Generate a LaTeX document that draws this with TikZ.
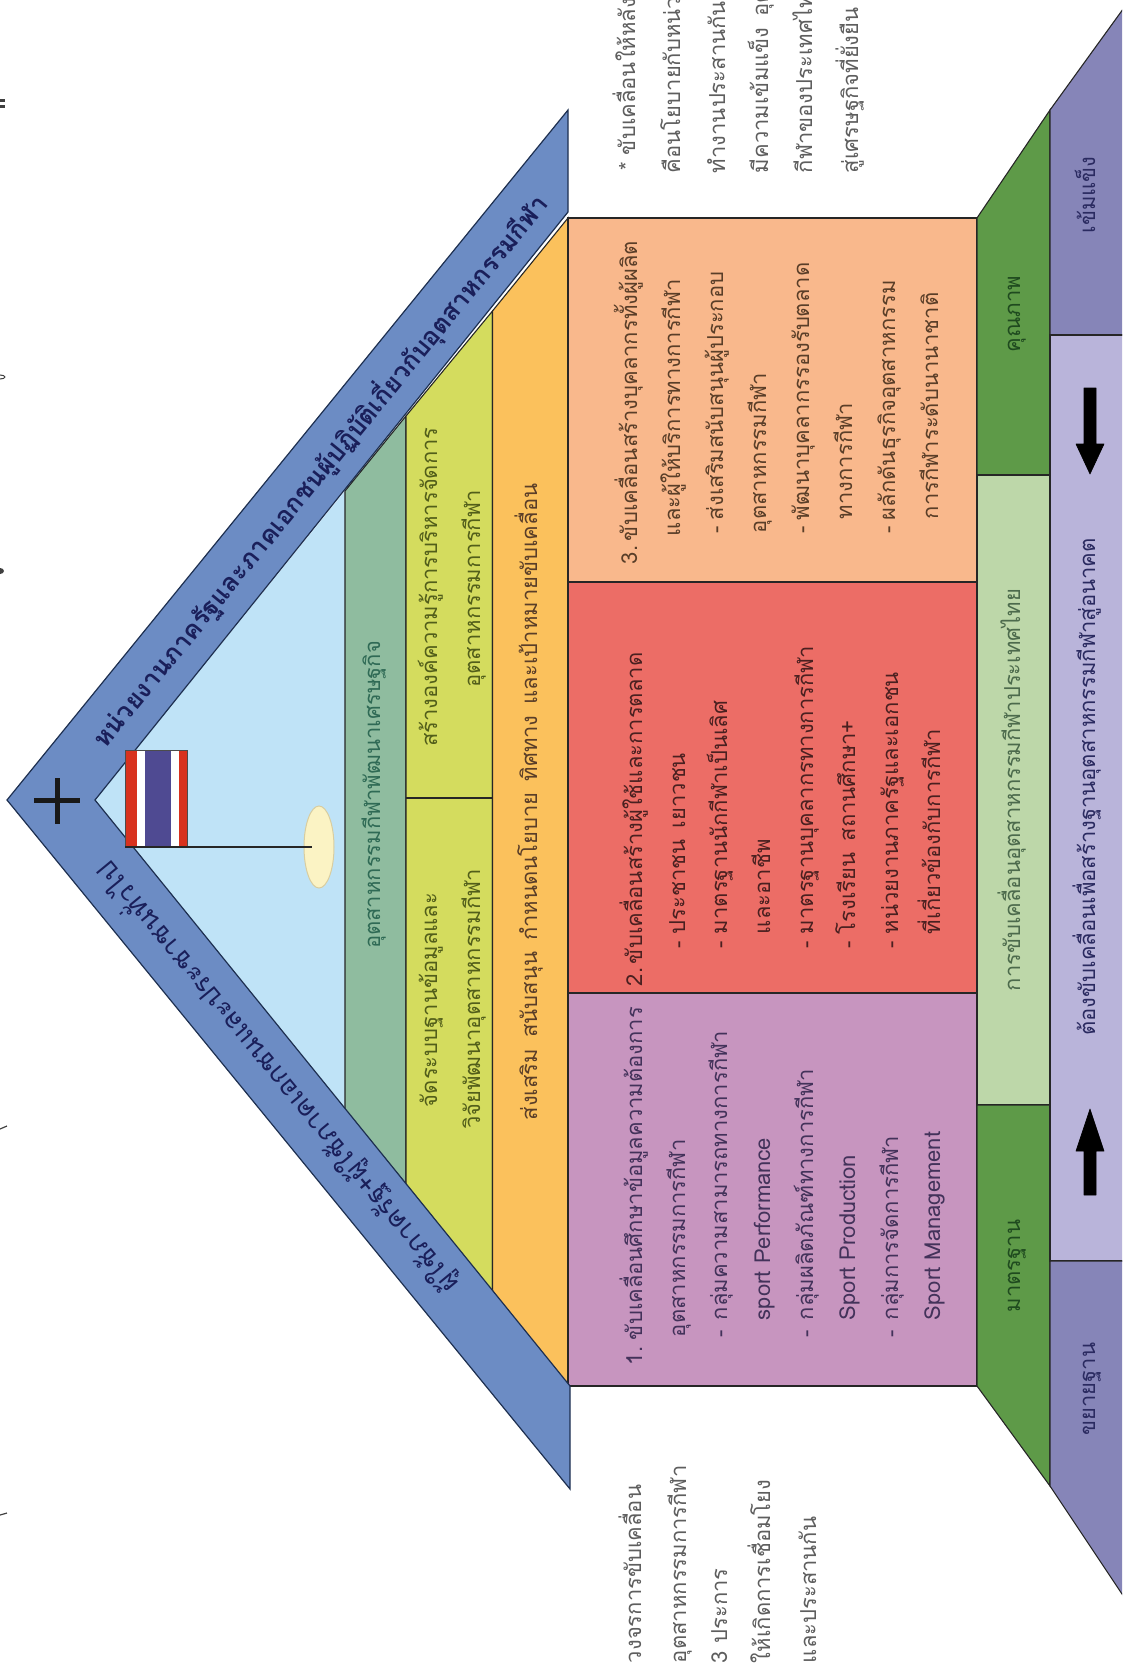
\documentclass[tikz,border=0pt]{standalone}
\usepackage{fontspec}
\usetikzlibrary{shapes.geometric}
\setmainfont[Script=Thai]{Loma}
\definecolor{roof}{HTML}{6C8CC4}
\definecolor{roofedge}{HTML}{1D2F50}
\definecolor{sky}{HTML}{BFE3F7}
\definecolor{bandgreen}{HTML}{8FBC9F}
\definecolor{bandyellow}{HTML}{D4DC5E}
\definecolor{bandorange}{HTML}{FBC15C}
\definecolor{peach}{HTML}{F9B88C}
\definecolor{redbox}{HTML}{EC6D66}
\definecolor{purplebox}{HTML}{C795BF}
\definecolor{darkgreen}{HTML}{5E9A48}
\definecolor{lightgreen}{HTML}{BDD7A9}
\definecolor{darkpurple}{HTML}{8685B8}
\definecolor{lightpurple}{HTML}{B9B4DA}
\definecolor{flagred}{HTML}{D8321E}
\definecolor{flagblue}{HTML}{4F4A92}
\definecolor{ovalfill}{HTML}{FBF3C4}
\definecolor{ovaledge}{HTML}{D8CDA0}
\definecolor{notegray}{HTML}{5E5E5E}
\definecolor{txpurple}{HTML}{43325A}
\definecolor{txred}{HTML}{4A2020}
\definecolor{txpeach}{HTML}{5A3E28}
\definecolor{txyellow}{HTML}{525E1A}
\definecolor{txgreen}{HTML}{2F6A55}
\definecolor{txlight}{HTML}{4C6A4C}
\definecolor{txdark}{HTML}{1F4A1F}
\definecolor{txbase}{HTML}{2A2A60}
\definecolor{txroof}{HTML}{1A1F5A}
\tikzset{
  face/.style={draw=black!85,line width=1.1pt},
  roofband/.style={fill=roof,draw=roofedge,line width=1.2pt,line join=miter},
  lab/.style={inner sep=0pt,outer sep=0pt,rotate=90,font=\fontsize{22}{22}\selectfont},
  line/.style={lab,anchor=base west},
  mid/.style={lab,anchor=base},
  blockarrow/.style={fill=black,draw=black,line width=0.6pt,line join=round},
}
\begin{document}
\begin{tikzpicture}[x=1pt,y=-1pt]
\useasboundingbox (0,0) rectangle (1122,1673);
\clip (0,0) rectangle (1122,1673);
% interior of roof
\fill[sky] (95,800) -- (345,491) -- (345,1110) -- cycle;
\draw[face,fill=bandgreen] (345,491) -- (406,416) -- (406,1184) -- (345,1110) -- cycle;
\draw[face,fill=bandyellow] (406,416) -- (492.5,311) -- (492.5,1292) -- (406,1184) -- cycle;
\draw[face] (406,798) -- (492.5,798);
\draw[face,fill=bandorange] (492.5,311) -- (568,218) -- (568,1386) -- (492.5,1292) -- cycle;
% body boxes
\draw[face,fill=peach] (568,218) rectangle (977,582);
\draw[face,fill=redbox] (568,582) rectangle (977,993);
\draw[face,fill=purplebox] (568,993) rectangle (977,1386);
% green row
\draw[face,fill=darkgreen] (977,218) -- (1050,110) -- (1050,475) -- (977,475) -- cycle;
\draw[face,fill=lightgreen] (977,475) rectangle (1050,1105);
\draw[face,fill=darkgreen] (977,1105) -- (1050,1105) -- (1050,1486) -- (977,1386) -- cycle;
% base row
\draw[face,fill=darkpurple] (1050,110) -- (1126,5) -- (1126,335) -- (1050,335) -- cycle;
\draw[face,fill=lightpurple] (1050,335) rectangle (1126,1261);
\draw[face,fill=darkpurple] (1050,1261) -- (1126,1261) -- (1126,1600) -- (1050,1486) -- cycle;
% block arrows
\draw[blockarrow] (1084,388) -- (1096,388) -- (1096,444) -- (1104,444) -- (1090,474) -- (1076,444) -- (1084,444) -- cycle;
\draw[blockarrow] (1084,1195) -- (1096,1195) -- (1096,1151) -- (1104,1151) -- (1090,1109) -- (1076,1151) -- (1084,1151) -- cycle;
% roof
\draw[roofband] (7,800) -- (568,110) -- (568,212) -- (95,800) -- (570,1386) -- (570,1489) -- cycle;
% cross
\fill[black!90] (34,797.5) rectangle (80,802.5);
\fill[black!90] (54.5,778) rectangle (59.5,824);
% flag
\fill[flagred] (125,750) rectangle (137,847);
\fill[white] (137,750) rectangle (145,847);
\fill[flagblue] (145,750) rectangle (170.5,847);
\fill[white] (170.5,750) rectangle (179,847);
\fill[flagred] (179,750) rectangle (187,847);
\draw[black!70,line width=0.7pt] (125,750) rectangle (187,847);
\node[fill=ovalfill,draw=ovaledge,line width=1pt,ellipse,minimum width=30pt,minimum height=82pt,inner sep=0pt] (oval) at (319,847) {};
\coordinate (poleend) at (312,847);
\coordinate (polestart) at (125,847);
\draw[black!85,line width=1.3pt] (polestart) -- (poleend);
% clipped marks at the left edge
\fill[black!75] (0,99) rectangle (5,102);
\fill[black!75] (0,105) rectangle (5,108);
\draw[black!75,line width=1pt] (0,377) ellipse (5 and 2);
\fill[black!75] (0,571) ellipse (4 and 3);
\draw[black!75,line width=1.2pt] (0,1129) -- (7,1126);
\draw[black!75,line width=1.2pt] (0,1515) -- (7,1513);
% roof labels
\node[inner sep=0pt,rotate=50.8,text=txroof,font=\fontsize{25.5}{26}\selectfont\bfseries] (rooftop) at (320,471) {หน่วยงานภาครัฐและภาคเอกชนผู้ปฏิบัติเกี่ยวกับอุตสาหกรรมกีฬา};
\node[inner sep=0pt,rotate=129.5,text=txroof,font=\fontsize{27}{27}\selectfont] (roofbot) at (277,1078) {ผู้ใช้ภาครัฐ+ผู้ใช้ภาคเอกชนและประชาชนทั่วไป};
% bands
\node[mid,text=txgreen] (b1) at (380,795) {อุตสาหกรรมกีฬาพัฒนาเศรษฐกิจ};
\node[mid,text=txyellow] (b2a) at (437,587) {สร้างองค์ความรู้การบริหารจัดการ};
\node[mid,text=txyellow] (b2b) at (480,589) {อุตสาหกรรมการกีฬา};
\node[mid,text=txyellow] (b3a) at (437,1000) {จัดระบบฐานข้อมูลและ};
\node[mid,text=txyellow] (b3b) at (480,999) {วิจัยพัฒนาอุตสาหกรรมกีฬา};
\node[mid,text=txpeach] (b4) at (537,802) {ส่งเสริม\enspace สนับสนุน\enspace กำหนดนโยบาย\enspace ทิศทาง\enspace และเป้าหมายขับเคลื่อน};
% purple box
\begin{scope}[text=txpurple]
\node[line] (p1n) at (642,1365) {1.};
\node[line] (p1) at (642,1340) {ขับเคลื่อนศึกษาข้อมูลความต้องการ};
\node[line] (p2) at (685,1337) {อุตสาหกรรมการกีฬา};
\node[line] (p3d) at (727,1337) {-};
\node[line] (p3) at (727,1320) {กลุ่มความสามารถทางการกีฬา};
\node[line] (p4) at (770,1320) {sport Performance};
\node[line] (p5d) at (813,1337) {-};
\node[line] (p5) at (813,1320) {กลุ่มผลิตภัณฑ์ทางการกีฬา};
\node[line] (p6) at (855,1320) {Sport Production};
\node[line] (p7d) at (898,1337) {-};
\node[line] (p7) at (898,1320) {กลุ่มการจัดการกีฬา};
\node[line] (p8) at (940,1320) {Sport Management};
\end{scope}
% red box
\begin{scope}[text=txred]
\node[line] (r1n) at (642,986) {2.};
\node[line] (r1) at (642,964) {ขับเคลื่อนสร้างผู้ใช้และการตลาด};
\node[line] (r2d) at (685,948) {-};
\node[line] (r2) at (685,934) {ประชาชน\enspace เยาวชน};
\node[line] (r3d) at (727,948) {-};
\node[line] (r3) at (727,934) {มาตรฐานนักกีฬาเป็นเลิศ};
\node[line] (r4) at (770,934) {และอาชีพ};
\node[line] (r5d) at (813,948) {-};
\node[line] (r5) at (813,934) {มาตรฐานบุคลากรทางการกีฬา};
\node[line] (r6d) at (855,948) {-};
\node[line] (r6) at (855,934) {โรงเรียน\enspace สถานศึกษา+};
\node[line] (r7d) at (898,948) {-};
\node[line] (r7) at (898,934) {หน่วยงานภาครัฐและเอกชน};
\node[line] (r8) at (940,934) {ที่เกี่ยวข้องกับการกีฬา};
\end{scope}
% peach box
\begin{scope}[text=txpeach]
\node[line] (o1n) at (637,564) {3.};
\node[line] (o1) at (637,541) {ขับเคลื่อนสร้างบุคลากรทั้งผู้ผลิต};
\node[line] (o2) at (680,536) {และผู้ให้บริการทางการกีฬา};
\node[line] (o3d) at (723,533) {-};
\node[line] (o3) at (723,520) {ส่งเสริมสนับสนุนผู้ประกอบ};
\node[line] (o4) at (766,533) {อุตสาหกรรมกีฬา};
\node[line] (o5d) at (809,533) {-};
\node[line] (o5) at (809,520) {พัฒนาบุคลากรรองรับตลาด};
\node[line] (o6) at (852,519) {ทางการกีฬา};
\node[line] (o7d) at (895,533) {-};
\node[line] (o7) at (895,520) {ผลักดันธุรกิจอุตสาหกรรม};
\node[line] (o8) at (938,519) {การกีฬาระดับนานาชาติ};
\end{scope}
% green row labels
\node[mid,text=txdark] (g1) at (1020,1266) {มาตรฐาน};
\node[mid,text=txlight] (g2) at (1020,790) {การขับเคลื่อนอุตสาหกรรมกีฬาประเทศไทย};
\node[mid,text=txdark] (g3) at (1020,314) {คุณภาพ};
% base labels
\node[mid,text=txbase] (u1) at (1095,1389) {ขยายฐาน};
\node[mid,text=txbase] (u2) at (1095,787) {ต้องขับเคลื่อนเพื่อสร้างฐานอุตสาหกรรมกีฬาสู่อนาคต};
\node[mid,text=txbase] (u3) at (1095,195) {เข้มแข็ง};
% notes lower-left
\begin{scope}[text=notegray]
\node[line] (n1) at (641,1663) {วงจรการขับเคลื่อน};
\node[line] (n2) at (686,1663) {อุตสาหกรรมการกีฬา};
\node[line] (n3) at (727,1663) {3 ประการ};
\node[line] (n4) at (770,1663) {ให้เกิดการเชื่อมโยง};
\node[line] (n5) at (816,1663) {และประสานกัน};
% notes upper-right
\node[line] (m0) at (635,170) {*};
\node[line] (m1) at (635,155) {ขับเคลื่อนให้หลัง};
\node[line] (m2) at (680,173) {คือนโยบายกับหน่ว};
\node[line] (m3) at (725,173) {ทำงานประสานกันน};
\node[line] (m4) at (768,173) {มีความเข้มแข็ง\enspace อุต};
\node[line] (m5) at (812,173) {กีฬาของประเทศไท};
\node[line] (m6) at (858,173) {สู่เศรษฐกิจที่ยั่งยืน};
\end{scope}
\end{tikzpicture}
\end{document}
